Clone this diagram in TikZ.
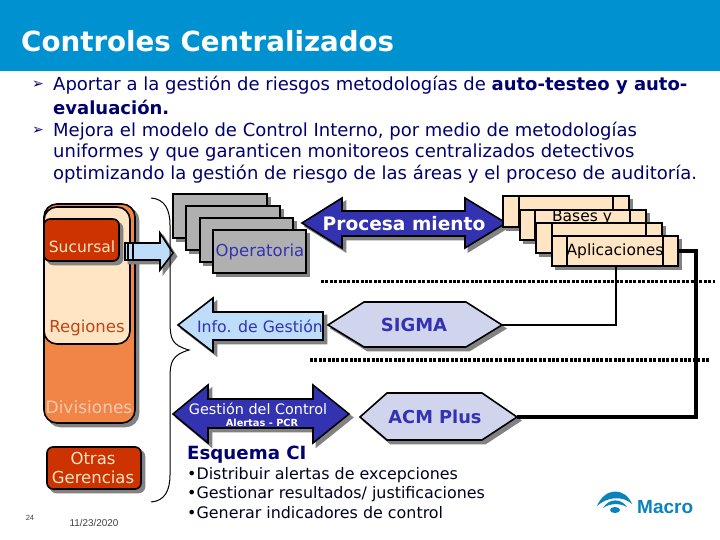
\documentclass[tikz,border=0pt]{standalone}
\usepackage{fontspec}
\setmainfont{DejaVu Sans}
\newfontfamily\arialf{Liberation Sans}
\definecolor{navy}{RGB}{0,0,110}
\definecolor{hdr}{RGB}{0,146,208}
\definecolor{bluey}{RGB}{51,51,178}
\definecolor{lblue}{RGB}{190,221,250}
\definecolor{lilac}{RGB}{208,212,236}
\definecolor{cream}{RGB}{255,229,196}
\definecolor{orng}{RGB}{240,133,70}
\definecolor{rust}{RGB}{204,51,0}
\definecolor{shd}{RGB}{130,130,130}
\definecolor{grayb}{RGB}{176,176,176}
\definecolor{logoc}{RGB}{10,130,190}
\tikzset{x=1pt,y=-1pt,
 shp/.style={draw=black,line width=1.6pt,line join=miter},
 shadowed/.style={preaction={draw=shd,fill=shd,line width=1.6pt,transform canvas={shift={(3.5pt,-3.5pt)}}}},
 bullet/.style={anchor=west,text=navy,font=\fontsize{18}{18}\selectfont,inner sep=0pt},
 marker/.style={anchor=west,text=navy,font=\fontsize{14}{14}\selectfont,inner sep=0pt},
 lab/.style={inner sep=0pt,font=\fontsize{16.5}{18}\selectfont},
 conn/.style={draw=black,line width=2.6pt},
 connthick/.style={draw=black,line width=4pt},
 dotline/.style={draw=black,line width=3.6pt,dash pattern=on 3pt off 1.4pt},
 esqtext/.style={anchor=west,inner sep=0pt,text=black!70!navy,font=\fontsize{15.9}{18}\selectfont}}
\begin{document}
\begin{tikzpicture}
\useasboundingbox (0,0) rectangle (720,540);
\fill[white] (0,0) rectangle (720,540);
\fill[hdr] (0,0) rectangle (720,71);
\node[anchor=west,text=white,inner sep=0pt,font=\fontsize{27.7}{30}\bfseries\selectfont] (title) at (21,41) {Controles Centralizados};
% bullets
\node[marker] (b1) at (32,85) {\symbol{"27A2}};
\node[bullet] (t1) at (53,85) {Aportar a la gestión de riesgos metodologías de \textbf{auto-testeo y auto-}};
\node[bullet] (t2) at (53,107) {\textbf{evaluación.}};
\node[marker] (b2) at (32,131) {\symbol{"27A2}};
\node[bullet] (t3) at (53,131) {Mejora el modelo de Control Interno, por medio de metodologías};
\node[bullet] (t4) at (53,153) {uniformes y que garanticen monitoreos centralizados detectivos};
\node[bullet] (t5) at (53,174) {optimizando la gestión de riesgo de las áreas y el proceso de auditoría.};
% left stack
\path[shp,fill=orng,shadowed,rounded corners=13pt] (44,204) rectangle (135,423);
\path[shp,fill=cream,rounded corners=13pt] (44,207) rectangle (130,344);
\path[shp,fill=rust,shadowed,rounded corners=6pt] (44,219) rectangle (119,261);
\node[lab,font=\fontsize{15.5}{18}\selectfont,text=cream] (suc) at (82,247) {Sucursal};
\node[lab,text={rgb,255:red,190;green,70;blue,20}] (reg) at (87,328) {Regiones};
\node[lab,font=\fontsize{17}{18}\selectfont,text={rgb,255:red,250;green,200;blue,180}] (div) at (89,407) {Divisiones};
\path[shp,fill=rust,shadowed,rounded corners=6pt] (47,447) rectangle (141,489);
\node[lab,font=\fontsize{16.5}{18.5}\selectfont,text=cream,align=center] (otr) at (93,468) {Otras\\Gerencias};
% small arrow
\path[shp,fill=lblue,shadowed] (125,243) -- (160,243) -- (160,233) -- (173,253) -- (160,270) -- (160,260) -- (125,260) -- cycle;
\draw[line width=1.6pt] (128,243) -- (128,260) (133,243) -- (133,260);
% brace
\draw[line width=1pt] (151,198) .. controls (165,199) and (170,210) .. (170,225) -- (170,320) .. controls (170,340) and (172,345) .. (189,350) .. controls (172,355) and (170,362) .. (170,378) -- (170,475) .. controls (170,490) and (165,501) .. (151,502);
% operatoria
\path[shp,fill=grayb,shadowed] (173,194) rectangle (267,238);
\path[shp,fill=grayb,shadowed] (186,206) rectangle (280,250);
\path[shp,fill=grayb,shadowed] (200,218) rectangle (293,262);
\path[shp,fill=grayb,shadowed] (213,230) rectangle (306,273);
\node[lab,text=bluey] (op) at (260,252) {Operatoria};
% procesamiento
\path[shp,fill=bluey,shadowed] (302,223) -- (342,198) -- (342,211) -- (465,211) -- (465,198) -- (506,223) -- (465,248) -- (465,236) -- (342,236) -- (342,248) -- cycle;
\node[inner sep=0pt,text=white,font=\fontsize{18.6}{20}\bfseries\selectfont] (proc) at (404,224) {Procesa miento};
% bases
\path[shp,fill=cream,shadowed] (503,196) rectangle (629,227);
\draw[line width=1.6pt] (519,196) -- (519,227) (613,196) -- (613,227);
\path[shp,fill=cream,shadowed] (520,210) rectangle (646,240);
\draw[line width=1.6pt] (535,210) -- (535,240) (630,210) -- (630,240);
\node[lab,font=\fontsize{15.5}{18}\selectfont,text=black,anchor=north] (bases) at (582,210) {Bases y};
\path[shp,fill=cream,shadowed] (536,223) rectangle (662,253);
\draw[line width=1.6pt] (552,223) -- (552,253) (646,223) -- (646,253);
\path[shp,fill=cream,shadowed] (552,236) rectangle (678,266);
\draw[line width=1.6pt] (567,236) -- (567,266) (663,236) -- (663,266);
\node[lab,font=\fontsize{15.5}{18}\selectfont,text=black] (apl) at (615,251) {Aplicaciones};
% dotted
\coordinate (d1a) at (321,281.5); \coordinate (d1b) at (715,281.5);
\coordinate (d2a) at (310,360); \coordinate (d2b) at (710,360);
\draw[dotline] (d1a) -- (d1b);
\draw[dotline] (d2a) -- (d2b);
% info
\path[shp,fill=lblue,shadowed] (178,325) -- (213,298) -- (213,312) -- (323,312) -- (323,340) -- (213,340) -- (213,352) -- cycle;
\node[lab,text=bluey,font=\fontsize{15.7}{18}\selectfont] (inf) at (260,326) {Info. de Gestión};
% sigma
\path[shp,fill=lilac,shadowed] (328,325) -- (364,302) -- (466,302) -- (502,325) -- (466,347) -- (364,347) -- cycle;
\node[inner sep=0pt,text=bluey,font=\fontsize{18}{20}\bfseries\selectfont] (sig) at (414,325) {SIGMA};
% acm
\path[shp,fill=lilac,shadowed] (360,417) -- (387,393) -- (482,393) -- (517,417) -- (482,440) -- (387,440) -- cycle;
\node[inner sep=0pt,text=bluey,font=\fontsize{17.8}{20}\bfseries\selectfont] (acm) at (435,417) {ACM Plus};
% gestion
\path[shp,fill=bluey,shadowed] (173,414) -- (208,385) -- (208,399) -- (313,399) -- (313,385) -- (349,414) -- (313,443) -- (313,428) -- (208,428) -- (208,443) -- cycle;
\node[inner sep=0pt,text=white,font=\fontsize{14.4}{16}\selectfont] (ges) at (258,409) {Gestión del Control};
\node[inner sep=0pt,text=white,font=\fontsize{9.8}{11}\bfseries\selectfont] (ale) at (262,423) {Alertas - PCR};
% connectors
\coordinate (c1) at (616,325);
\coordinate (c2) at (696,251);
\coordinate (c3) at (696,417);
\draw[conn] (616,266) -- (c1) -- (502,325);
\draw[connthick] (678,251) -- (c2) -- (c3) -- (517,417);
% esquema
\node[anchor=west,inner sep=0pt,text=navy,font=\fontsize{18.2}{20}\bfseries\selectfont] (esq) at (187,455) {Esquema CI};
\node[esqtext] (e1) at (187,475) {•Distribuir alertas de excepciones};
\node[esqtext] (e2) at (187,494) {•Gestionar resultados/ justificaciones};
\node[esqtext] (e3) at (187,513) {•Generar indicadores de control};
% footer
\node[inner sep=0pt,font=\arialf\fontsize{7.5}{8}\selectfont,text=black!75] (pg) at (30,518) {24};
\node[inner sep=0pt,font=\arialf\fontsize{9.9}{11}\selectfont,text=black!75] (dt) at (94,523) {11/23/2020};
% logo
\fill[logoc] (597,506) .. controls (605,487) and (625,487) .. (632,504) .. controls (622,495) and (607,497) .. (597,506) -- cycle;
\fill[logoc] (603,508) .. controls (609,498) and (621,498) .. (627,507) .. controls (620,503) and (610,503) .. (603,508) -- cycle;
\fill[logoc] (615,510) ellipse (5pt and 3pt);
\node[anchor=west,inner sep=0pt,text=logoc,font=\arialf\fontsize{19}{20}\bfseries\selectfont] (mac) at (637,507) {Macro};
\end{tikzpicture}
\end{document}
